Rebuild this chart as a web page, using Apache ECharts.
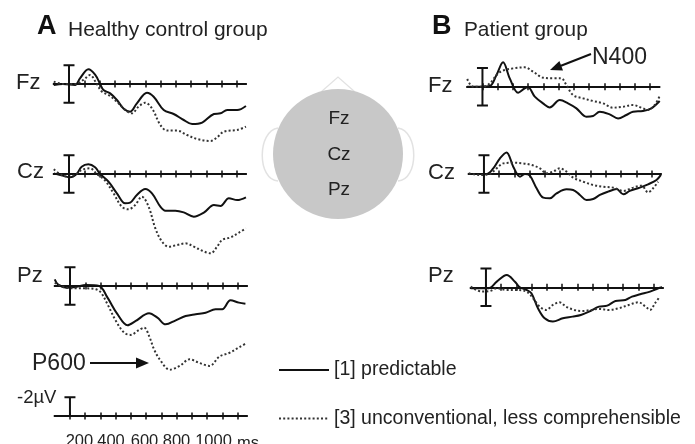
<!DOCTYPE html>
<html><head><meta charset="utf-8">
<script src="https://cdn.jsdelivr.net/npm/echarts@6/dist/echarts.min.js"></script>
<style>html,body{margin:0;padding:0;background:#fff}#c{width:695px;height:444px}</style>
</head><body><div id="c"></div>
<script>
// ---- Data (time in ms, amplitude in µV; negative plotted upward) ----
const nameP = '[1] predictable';
const nameU = '[3] unconventional, less comprehensible';

// Healthy control group
const aFzT1 = [-100,-40,40,72,127,171,204,226,270,314,357,401,445,511,555,621,686,752,807,873,950,993,1037,1103,1160];
const aFzV1 = [0.1,0,0.1,-0.6,-1.56,-1.0,0,0.64,1.0,1.7,2.6,2.94,2.06,0.92,1.35,2.77,3.19,3.83,4.26,4.1,3.19,3.12,2.77,2.77,2.34];
const aFzT3 = [-100,-40,40,94,138,182,215,259,314,368,412,456,500,544,599,643,708,774,840,928,971,1015,1103,1160];
const aFzV3 = [-0.25,0,0,-0.43,-0.96,0,0.8,1.17,1.88,2.77,3.12,2.41,1.99,2.59,4.36,4.96,4.96,5.43,5.85,6.06,5.67,5.07,4.89,4.54];

const aCzT1 = [-100,-37,7,50,83,127,171,204,259,314,368,401,445,500,544,599,632,697,752,818,884,950,993,1048,1103,1160];
const aCzV1 = [-0.07,0.2,0.35,0,-0.78,-1.03,-0.71,0,0.82,2.06,3.12,3.05,2.23,1.6,2.06,3.48,3.9,3.9,4.08,4.54,4.11,3.3,3.4,2.59,2.77,2.48];
const aCzT3 = [-100,-59,-15,40,83,138,182,237,292,346,390,434,478,522,566,610,654,708,763,818,873,928,971,1004,1059,1114,1160];
const aCzV3 = [-0.5,0,0.28,0.1,-0.43,-0.6,0,0.71,2.06,3.48,3.76,3.3,2.41,3.48,5.78,7.2,7.73,7.55,7.38,7.73,8.16,8.44,7.73,7.02,6.74,6.24,5.78];

const aPzT1 = [-100,-80,-26,39,104,191,246,311,377,431,518,573,627,693,758,824,889,954,998,1052,1107,1150];
const aPzV1 = [-0.7,-0.18,0.18,0.1,-0.1,0,1.24,3.0,4.18,3.72,2.9,3.37,4.08,3.65,3.19,3.0,2.84,2.48,2.48,1.52,1.77,1.88];
const aPzT3 = [-100,-26,39,104,170,203,246,301,355,399,442,486,518,551,588,654,719,784,850,915,980,1046,1111,1155];
const aPzV3 = [-0.35,0.18,0.25,0.25,0.35,0.7,1.95,3.72,4.96,5.2,4.78,4.43,5.3,6.74,7.8,8.9,8.5,7.8,8.2,8.5,7.5,7.1,6.5,6.1];

// Patient group
const bFzT1 = [-100,-17,48,92,135,179,234,277,299,343,397,441,507,561,616,681,725,769,834,889,943,987,1052,1107,1162];
const bFzV1 = [0,0,-0.07,-1.24,-2.59,-0.89,0.64,0.18,0.07,1.06,1.77,2.2,1.42,1.77,2.3,3.19,3.12,2.66,2.94,3.37,3.01,2.66,2.59,2.3,1.52];
const bFzT3 = [-100,-61,4,48,103,146,201,277,332,397,463,517,550,594,659,725,790,856,921,987,1041,1085,1129,1160];
const bFzV3 = [-0.82,0,0,-0.35,-1.42,-1.77,-1.95,-2.06,-1.6,-0.96,-0.89,-0.89,-0.18,0.89,1.24,1.52,1.77,2.23,2.13,1.95,2.23,2.48,1.95,1.06];

const bCzT1 = [-100,17,61,105,148,192,236,269,301,345,389,432,476,541,585,629,672,716,760,814,869,913,956,1022,1076,1131,1160];
const bCzV1 = [0,0,-0.6,-1.67,-2.3,-0.78,0.28,0,0.18,1.52,2.52,2.59,2.06,1.63,1.7,2.23,2.77,2.66,2.23,1.88,1.6,2.16,1.8,1.45,1.1,0.64,0.1];
const bCzT3 = [-100,-26,39,83,127,192,258,312,367,410,454,498,541,585,651,716,782,847,913,978,1033,1076,1109,1142];
const bCzV3 = [-0.07,0.1,0,-0.6,-1.13,-1.2,-1.13,-0.96,-0.6,-0.07,-0.25,-0.6,-0.25,0.39,0.82,1.17,1.35,1.45,1.8,1.45,1.24,1.95,1.52,0.82];

const bPzT1 = [-100,17,71,136,190,222,266,298,341,385,439,504,568,622,676,741,795,849,914,957,1011,1076,1130,1155];
const bPzV1 = [0.1,0.1,-0.6,-1.31,-0.6,0,0.28,0.64,2.23,3.3,3.65,3.3,3.12,2.94,2.59,2.06,1.95,1.45,1.35,0.99,0.74,0.46,0.1,0];
const bPzT3 = [-100,-26,28,71,136,201,266,309,352,395,439,482,525,579,633,687,741,806,870,935,1000,1054,1076,1108,1140];
const bPzV3 = [-0.07,0.46,0.39,0.1,0.28,0.28,0.46,1.17,2.06,2.41,1.88,1.6,2.06,2.41,2.52,2.41,2.3,2.41,2.23,1.88,1.6,2.16,2.41,1.7,0.99];

// Axis ticks / labels
const tickValues = [0,100,200,300,400,500,600,700,800,900,1000,1100];
const labelValues = [200,400,600,800,1000];
const scaleBarUV = 2;     // calibration bar ±2 µV
const capHalfMs = 36;     // half-width of calibration bar caps

// ---- Layout ----
const FONT = "'Liberation Sans', Arial, sans-serif";
const INK = '#111';
const TXT = '#222';
const W = 192.2, PX_UV = 9.4;
const grids = [
  {left:53.75, top:55.8,  ymin:-3, ymax:9},   // A Fz
  {left:53.75, top:145.8, ymin:-3, ymax:9},   // A Cz
  {left:54.75, top:257.8, ymin:-3, ymax:9},   // A Pz
  {left:54.7,  top:387.8, ymin:-3, ymax:0},   // scale
  {left:467.2, top:58.5,  ymin:-3, ymax:9},   // B Fz
  {left:468.7, top:145.8, ymin:-3, ymax:9},   // B Cz
  {left:470.7, top:259.1, ymin:-3, ymax:9}    // B Pz
];

const panels = [
  {g:0, t1:aFzT1, v1:aFzV1, t3:aFzT3, v3:aFzV3},
  {g:1, t1:aCzT1, v1:aCzV1, t3:aCzT3, v3:aCzV3},
  {g:2, t1:aPzT1, v1:aPzV1, t3:aPzT3, v3:aPzV3},
  {g:4, t1:bFzT1, v1:bFzV1, t3:bFzT3, v3:bFzV3},
  {g:5, t1:bCzT1, v1:bCzV1, t3:bCzT3, v3:bCzV3},
  {g:6, t1:bPzT1, v1:bPzV1, t3:bPzT3, v3:bPzV3}
];

const pairs = (t, v) => t.map((x, i) => [x, v[i]]);

const gridOpts = grids.map(g => ({
  left:g.left, top:g.top, width:W, height:(g.ymax - g.ymin) * PX_UV,
  containLabel:false, outerBoundsMode:'none'
}));

const xAxes = [], yAxes = [];
grids.forEach((g, i) => {
  yAxes.push({gridIndex:i, type:'value', min:g.ymin, max:g.ymax, inverse:true, show:false});
  const isScale = i === 3;
  const base = {
    gridIndex:i, type:'value', min:-100, max:1160,
    axisLine:{onZero:true, onZeroAxisIndex:i, lineStyle:{color:INK, width:2}},
    axisTick:{show:true, customValues:tickValues, length:3.5, lineStyle:{color:INK, width:1.5}},
    splitLine:{show:false}, axisLabel:{show:false}
  };
  const bottom = Object.assign({}, base, {position:'bottom'});
  if (isScale) {
    const rs = pr => ({padding:[0,pr,0,0], fontSize:16.5, color:TXT, fontFamily:FONT});
    bottom.axisLabel = {
      show:true, customValues:labelValues, margin:17,
      fontSize:16.5, color:TXT, fontFamily:FONT,
      formatter: v => '{l' + v + '|' + v + '}',
      rich: {l200:rs(42), l400:rs(40), l600:rs(34), l800:rs(31), l1000:rs(18)}
    };
    bottom.name = 'ms';
    bottom.nameLocation = 'end';
    bottom.nameGap = 1;
    bottom.nameTextStyle = {align:'center', verticalAlign:'top', padding:[19,0,0,0], fontSize:16.5, color:TXT, fontFamily:FONT};
  }
  const top = Object.assign({}, base, {position:'top'});
  xAxes.push(bottom, top);
});

// calibration bar path (continuous polyline: caps + stem)
const calFull = [[-capHalfMs,-scaleBarUV],[0,-scaleBarUV],[0,scaleBarUV],[-capHalfMs,scaleBarUV],[capHalfMs,scaleBarUV],[0,scaleBarUV],[0,-scaleBarUV],[capHalfMs,-scaleBarUV]];
const calHalf = [[-capHalfMs,-scaleBarUV],[0,-scaleBarUV],[0,0],[0,-scaleBarUV],[capHalfMs,-scaleBarUV]];

const series = [];
panels.forEach(p => {
  series.push({
    type:'line', name:nameP, xAxisIndex:p.g*2, yAxisIndex:p.g,
    data:pairs(p.t1, p.v1), symbol:'none', smooth:0.35,
    lineStyle:{color:INK, width:2}, itemStyle:{color:INK}, z:3
  });
  series.push({
    type:'line', name:nameU, xAxisIndex:p.g*2, yAxisIndex:p.g,
    data:pairs(p.t3, p.v3), symbol:'none', smooth:0.35,
    lineStyle:{color:'#333', width:2, type:[2,2.2]}, itemStyle:{color:'#333'}, z:3
  });
  series.push({
    type:'line', name:'cal', xAxisIndex:p.g*2, yAxisIndex:p.g, silent:true,
    data:calFull, symbol:'none', lineStyle:{color:INK, width:2}, z:4
  });
});
series.push({
  type:'line', name:'cal', xAxisIndex:6, yAxisIndex:3, silent:true, clip:false,
  data:calHalf, symbol:'none', lineStyle:{color:INK, width:2}, z:4
});

const txt = (x, y, s, size, opts) => Object.assign({
  type:'text', x:x, y:y, z:10,
  style:{text:s, fontSize:size, fill:TXT, fontFamily:FONT, verticalAlign:'middle', align:'left'}
}, opts || {});

const graphic = [
  // titles
  {type:'text', x:37, y:27, style:{text:'A', fontSize:27, fontWeight:'bold', fill:'#111', fontFamily:FONT, verticalAlign:'middle'}},
  txt(68, 30, 'Healthy control group', 21),
  {type:'text', x:432, y:27, style:{text:'B', fontSize:27, fontWeight:'bold', fill:'#111', fontFamily:FONT, verticalAlign:'middle'}},
  txt(464, 30, 'Patient group', 20.8),
  // electrode labels
  txt(16, 82.5, 'Fz', 22), txt(17, 171.5, 'Cz', 22), txt(17, 275.5, 'Pz', 22),
  txt(428, 85.5, 'Fz', 22), txt(428, 172.5, 'Cz', 22), txt(428, 276, 'Pz', 22),
  txt(17, 398, '-2µV', 18.5),
  // annotations
  txt(32, 364, 'P600', 23),
  {type:'line', shape:{x1:90, y1:363, x2:138, y2:363}, style:{stroke:'#111', lineWidth:2}},
  {type:'polygon', shape:{points:[[149,363],[136,357.5],[136,368.5]]}, style:{fill:'#111'}},
  txt(592, 58, 'N400', 23),
  {type:'line', shape:{x1:591, y1:54, x2:561, y2:65.7}, style:{stroke:'#111', lineWidth:2}},
  {type:'polygon', shape:{points:[[550,70],[563,70.4],[559.4,61.1]]}, style:{fill:'#111'}},
  // head
  {type:'bezierCurve', shape:{x1:278, y1:128, cpx1:257, cpy1:131, cpx2:257, cpy2:180, x2:278, y2:181}, style:{stroke:'#e2e2e2', lineWidth:1.5, fill:null}, z:1},
  {type:'bezierCurve', shape:{x1:398, y1:128, cpx1:419, cpy1:131, cpx2:419, cpy2:180, x2:398, y2:181}, style:{stroke:'#e2e2e2', lineWidth:1.5, fill:null}, z:1},
  {type:'polyline', shape:{points:[[321,92],[338,77],[355,92]]}, style:{stroke:'#e2e2e2', lineWidth:1.2, fill:null}, z:1},
  {type:'circle', shape:{cx:338, cy:154, r:65}, style:{fill:'#c8c8c8'}, z:2},
  {type:'text', x:339, y:119, z:3, style:{text:'Fz', fontSize:19, fill:TXT, fontFamily:FONT, align:'center', verticalAlign:'middle'}},
  {type:'text', x:339, y:155, z:3, style:{text:'Cz', fontSize:19, fill:TXT, fontFamily:FONT, align:'center', verticalAlign:'middle'}},
  {type:'text', x:339, y:190, z:3, style:{text:'Pz', fontSize:19, fill:TXT, fontFamily:FONT, align:'center', verticalAlign:'middle'}}
];

const chart = echarts.init(document.getElementById('c'), null, {renderer:'canvas'});
chart.setOption({
  backgroundColor:'#fff',
  animation:false,
  grid:gridOpts,
  xAxis:xAxes,
  yAxis:yAxes,
  legend:{
    data:[nameP, nameU], orient:'vertical', left:278, top:360, padding:0,
    itemWidth:50, itemHeight:14, itemGap:28.5,
    itemStyle:{color:'rgba(0,0,0,0)', borderColor:'rgba(0,0,0,0)', borderWidth:0},
    textStyle:{fontSize:19.5, color:TXT, fontFamily:FONT},
    selectedMode:false
  },
  series:series,
  graphic:graphic
});
</script></body></html>
